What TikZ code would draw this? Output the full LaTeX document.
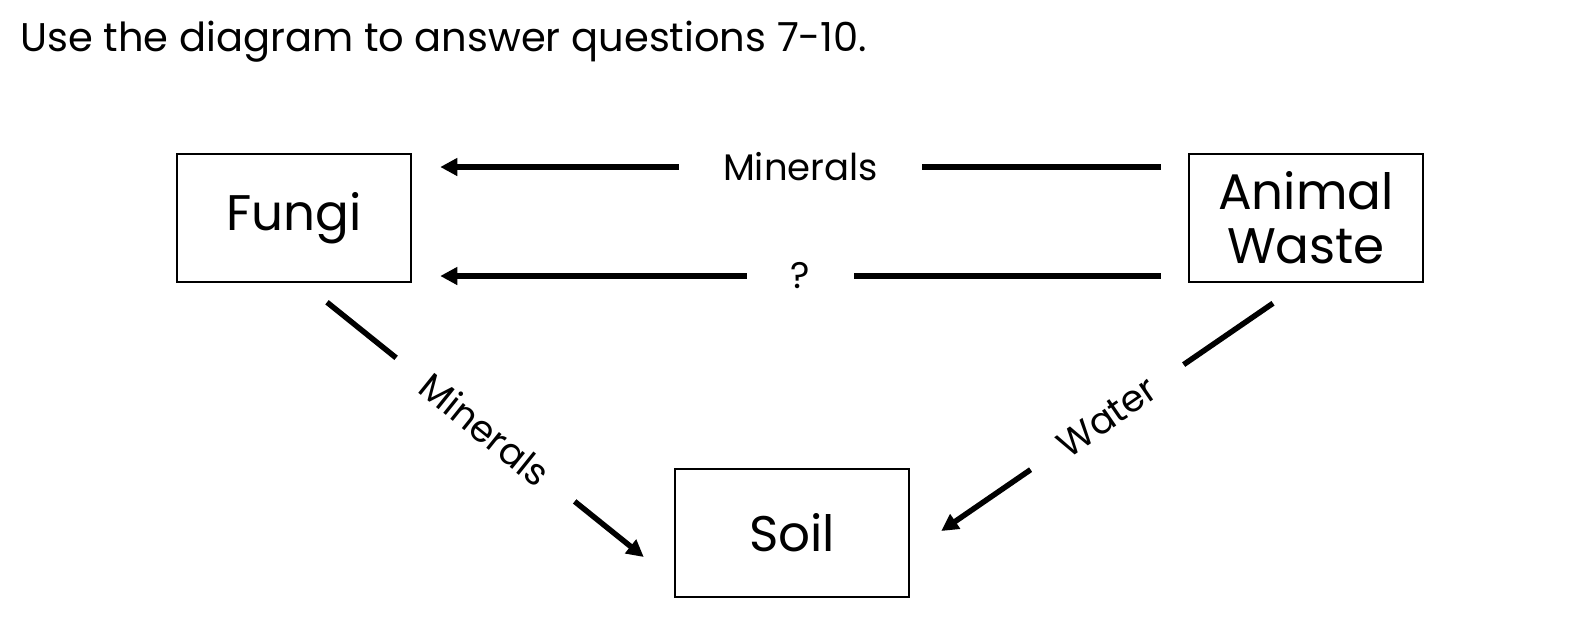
\documentclass[tikz,border=0pt]{standalone}
\usepackage{fontspec}
\setmainfont{Poppins}
\usetikzlibrary{arrows.meta,calc}

\tikzset{
  box/.style={draw, line width=2.5pt, minimum width=234pt, minimum height=128pt,
    inner sep=0pt, align=center, font=\fontsize{50}{54}\selectfont},
  flow/.style={line width=5.5pt, -{Triangle[length=17pt,width=17pt]}},
  lbl/.style={fill=white, inner xsep=44pt, inner ysep=2pt, font=\fontsize{37}{40}\selectfont}
}

\begin{document}
\begin{tikzpicture}[x=1pt,y=-1pt]
\useasboundingbox (0,0) rectangle (1592,630);
\node[anchor=base west, inner sep=0pt, font=\fontsize{40}{44}\selectfont] (title) at (20,51) {Use the diagram to answer questions 7-10.};

\node[box] (fungi) at (294,218) {Fungi};
\node[box] (waste) at (1306,218) {Animal\\Waste};
\node[box] (soil) at (792,533) {Soil};

\draw[flow] ($(waste.west)+(-27,-51)$) -- node[lbl] (min1) {Minerals} ($(fungi.east)+(28,-51)$);
\draw[flow] ($(waste.west)+(-27,58)$) -- node[lbl] (unk) {?} ($(fungi.east)+(28,58)$);
\draw[flow] ($(fungi.south)+(33,19)$) -- node[lbl, sloped, inner xsep=37pt] (min2) {Minerals} ($(soil.west)+(-30,24)$);
\draw[flow] ($(waste.south)+(-33,20)$) -- node[lbl, sloped, inner xsep=37pt] (wat) {Water} ($(soil.east)+(31,-2)$);
\end{tikzpicture}
\end{document}
